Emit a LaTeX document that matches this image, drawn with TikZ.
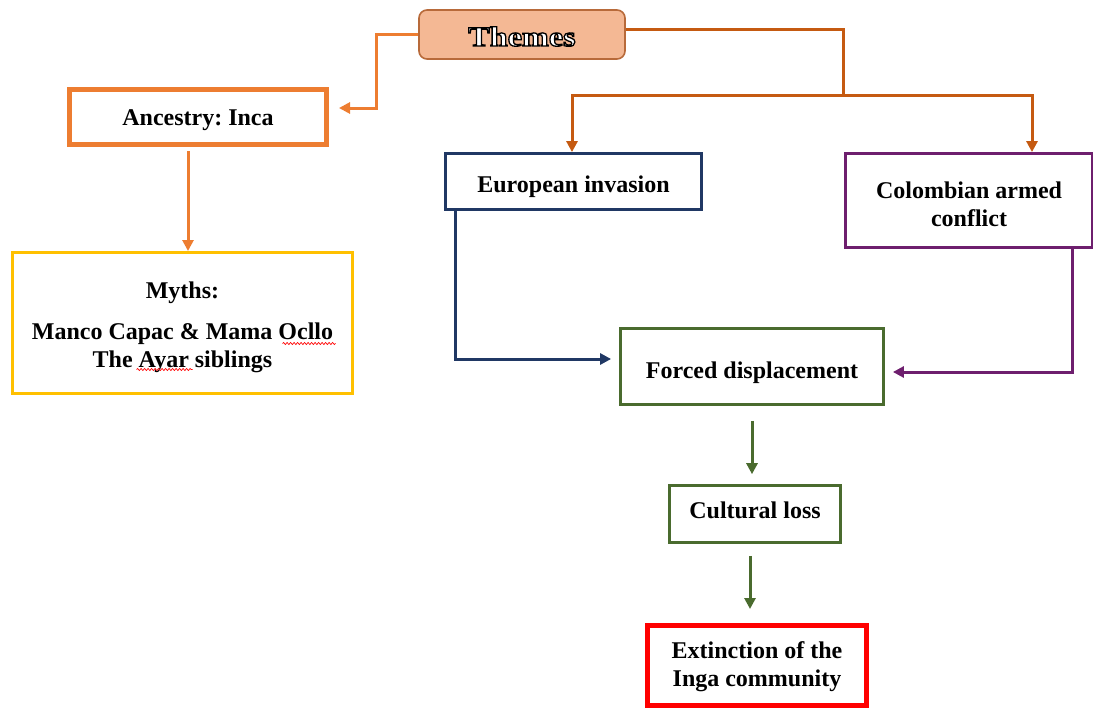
\documentclass[tikz,border=0pt]{standalone}
\usepackage{fontspec}
\setmainfont{Liberation Serif}
\newfontfamily\themefont[FakeStretch=1.15]{Liberation Serif}
\usetikzlibrary{arrows.meta,calc,decorations.pathmorphing}

\definecolor{themefill}{HTML}{F4B894}
\definecolor{themeedge}{HTML}{B86A3A}
\definecolor{orangeA}{HTML}{ED7D31}
\definecolor{orangeB}{HTML}{C55A11}
\definecolor{gold}{HTML}{FFC000}
\definecolor{navy}{HTML}{203864}
\definecolor{plum}{HTML}{6E1F6E}
\definecolor{leaf}{HTML}{4A6B2E}

\newcommand\outlinetext[1]{\special{pdf:bcontent}\special{pdf:literal direct 2 Tr 1.3 w 0 0 0 RG 1 1 1 rg}#1\special{pdf:econtent}}

\begin{document}
\frenchspacing
\begin{tikzpicture}[x=1pt,y=-1pt,
  box/.style={draw, rectangle, fill=white, inner sep=0pt},
  txt/.style={align=center, inner sep=0pt,
    font={\fontsize{24}{28}\selectfont\bfseries\frenchspacing}},
  arr/.style={-{Triangle[length=11pt,width=11pt]}, line width=3pt},
  wave/.style={red, line width=0.7pt, decorate,
    decoration={snake, amplitude=1pt, segment length=3.5pt}},
]
\useasboundingbox (0,0) rectangle (1093,709);

% nodes
\node[draw=themeedge, fill=themefill, rounded corners=8pt, line width=1.6pt,
      minimum width=206pt, minimum height=49pt, inner sep=0pt,
      label={[yshift=-2pt, inner sep=0pt, font={\fontsize{28}{30}\selectfont\bfseries\themefont}]center:\outlinetext{Themes}}]
      (themes) at (522,34.5) {};
\node[box, draw=orangeA, line width=5pt, minimum width=257pt, minimum height=55pt,
      label={[txt, yshift=-3pt]center:Ancestry: Inca}]
      (ancestry) at (198,117) {};
\node[box, draw=gold, line width=3pt, minimum width=340pt, minimum height=141pt,
      label={[txt, yshift=-4pt]center:Myths:\\[13pt]Manco Capac \& Mama Ocllo\\The Ayar siblings}]
      (myths) at (182.5,323) {};
\node[box, draw=navy, line width=2.8pt, minimum width=256pt, minimum height=56pt,
      label={[txt, yshift=-5pt]center:European invasion}]
      (european) at (573.5,181.5) {};
\node[box, draw=plum, line width=2.8pt, minimum width=247pt, minimum height=94pt,
      label={[txt, yshift=-3.5pt]center:Colombian armed\\conflict}]
      (colombian) at (969,200.5) {};
\node[box, draw=leaf, line width=2.8pt, minimum width=263pt, minimum height=76pt,
      label={[txt, yshift=-6pt]center:Forced displacement}]
      (forced) at (752,366.5) {};
\node[box, draw=leaf, line width=2.6pt, minimum width=171pt, minimum height=57pt,
      label={[txt, yshift=4pt]center:Cultural loss}]
      (cultural) at (755,514) {};
\node[box, draw=red, line width=5pt, minimum width=219pt, minimum height=80pt,
      label={[txt, yshift=-1pt]center:Extinction of the\\Inga community}]
      (extinction) at (757,665.5) {};

% spell-check waves
\draw[wave] ($(myths.center)+(100,20.5)$) -- ++(53,0);
\draw[wave] ($(myths.center)+(-46,46.5)$) -- ++(56,0);

% connectors
\coordinate (split) at (843,96);
\draw[arr, orangeA, shorten >=10pt] (themes.west) -- ++(-42,0) |- ($(ancestry.east)+(0,-9)$);
\draw[line width=3pt, orangeB] ($(themes.east)+(0,-5)$) -| (split);
\draw[arr, orangeB] (split) -| ($(european.north)+(-1.5,0)$);
\draw[arr, orangeB] (split) -| ($(colombian.north)+(63,0)$);
\draw[arr, orangeA, shorten <=4pt] ($(ancestry.south)+(-10,0)$) -- ($(myths.north)+(5.5,0)$);
\draw[arr, navy, shorten >=8pt] ($(european.south west)+(11,0)$) |- ($(forced.west)+(0,-7.5)$);
\draw[arr, plum, shorten >=8pt] ($(colombian.south east)+(-21,0)$) |- ($(forced.east)+(0,5.5)$);
\draw[arr, leaf, shorten <=15pt, shorten >=10pt] (forced.south) -- (forced.south |- cultural.north);
\draw[arr, leaf, shorten <=12pt, shorten >=14pt] ($(cultural.south)+(-5,0)$) -- ($(extinction.north)+(-7,0)$);
\end{tikzpicture}
\end{document}
